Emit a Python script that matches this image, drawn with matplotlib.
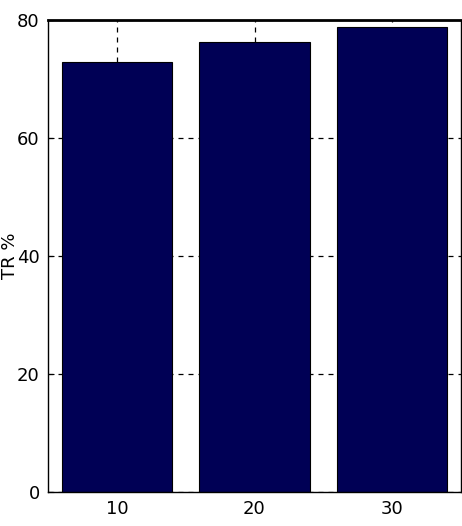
import matplotlib
matplotlib.use("Agg")
import matplotlib.pyplot as plt

categories = [10, 20, 30]
tr_values = [72.8, 76.3, 78.8]
yticks = [0, 20, 40, 60, 80]
ylabel = "TR %"

fig = plt.figure(figsize=(4.62, 5.26), dpi=100)
ax = fig.add_axes([48/462, 34/526, (461-48)/462, (492-20)/526])

ax.bar(categories, tr_values, width=8, color="#000055", edgecolor="black",
       linewidth=0.8, zorder=2)
ax.set_xlim(5, 35)
ax.set_ylim(0, 80)
ax.set_xticks(categories)
ax.set_yticks(yticks)
ax.set_axisbelow(True)
ax.grid(True, color="black", linestyle=(0, (4, 4)), linewidth=0.9)

tick_font = dict(family=["Liberation Sans Narrow", "DejaVu Sans"], size=13)
ax.set_xticklabels([str(c) for c in categories], fontdict=tick_font)
ax.set_yticklabels([str(t) for t in yticks], fontdict=tick_font)
ax.tick_params(direction="in", length=4, width=0.8, pad=6, top=False, right=False)
for s in ax.spines.values():
    s.set_linewidth(1.0)
    s.set_color("black")
ax.spines["top"].set_linewidth(2.0)
ax.set_ylabel(ylabel, fontsize=13, family=["DejaVu Sans"])
ax.yaxis.set_label_coords(-0.07, 0.5)

fig.savefig("out.png", dpi=100)
